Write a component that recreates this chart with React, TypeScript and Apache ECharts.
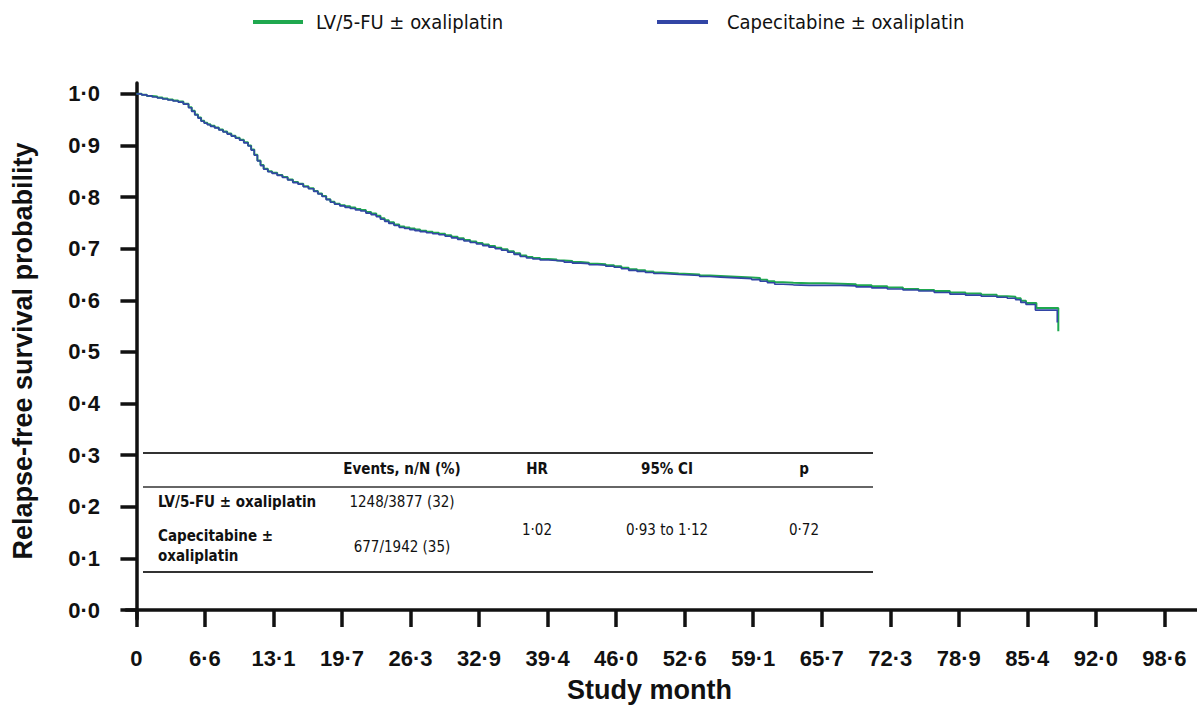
import React, { useEffect, useRef } from 'react';
import * as echarts from 'echarts';

const seriesNames = ['LV/5-FU ± oxaliplatin', 'Capecitabine ± oxaliplatin'];
const seriesColors = ['#1fa84f', '#3245a5'];

// [study month, relapse-free survival probability]
const lvfuPoints = [
  [0, 1.0], [0.5, 0.998], [1, 0.996], [1.5, 0.995], [2, 0.993], [2.5, 0.991], [3, 0.989], [3.5, 0.987], [4, 0.985], [4.5, 0.981],
  [5, 0.974], [5.3, 0.967], [5.6, 0.96], [5.9, 0.954], [6.2, 0.948], [6.5, 0.944], [6.8, 0.941], [7.1, 0.938], [7.5, 0.935], [7.9, 0.931],
  [8.3, 0.927], [8.7, 0.923], [9.1, 0.919], [9.5, 0.915], [9.9, 0.911], [10.3, 0.906], [10.7, 0.9], [11.0, 0.892], [11.3, 0.882], [11.6, 0.871],
  [11.9, 0.862], [12.2, 0.855], [12.6, 0.85], [13.0, 0.847], [13.5, 0.843], [14.0, 0.839], [14.5, 0.834], [15.0, 0.829], [15.5, 0.826], [16.0, 0.821],
  [16.5, 0.817], [17.0, 0.812], [17.4, 0.807], [17.8, 0.802], [18.2, 0.796], [18.6, 0.791], [19.0, 0.787], [19.5, 0.784], [20.0, 0.782], [20.5, 0.78],
  [21.0, 0.777], [21.5, 0.775], [22.0, 0.771], [22.5, 0.768], [23.0, 0.764], [23.4, 0.759], [23.8, 0.755], [24.2, 0.751], [24.7, 0.747], [25.2, 0.743],
  [25.7, 0.741], [26.2, 0.739], [26.7, 0.737], [27.2, 0.735], [27.8, 0.733], [28.4, 0.731], [29, 0.729], [29.6, 0.726], [30.2, 0.723], [30.8, 0.72],
  [31.4, 0.717], [32, 0.714], [32.6, 0.711], [33.2, 0.708], [33.8, 0.705], [34.4, 0.702], [35, 0.699], [35.6, 0.695], [36.2, 0.691], [36.8, 0.687],
  [37.4, 0.684], [38, 0.682], [38.7, 0.68], [39.5, 0.679], [40.3, 0.677], [41, 0.676], [41.8, 0.674], [42.6, 0.673], [43.4, 0.671], [44.2, 0.67],
  [45, 0.668], [45.8, 0.666], [46.5, 0.663], [47.2, 0.66], [48, 0.658], [48.8, 0.656], [49.6, 0.654], [50.4, 0.653], [51.2, 0.652], [52, 0.651],
  [53, 0.65], [54, 0.648], [55, 0.647], [56, 0.646], [57, 0.645], [58, 0.644], [59, 0.643], [59.8, 0.64], [60.5, 0.637], [61.2, 0.635],
  [62, 0.634], [63, 0.633], [64.5, 0.633], [66, 0.632], [67.5, 0.631], [69, 0.629], [70.5, 0.627], [72, 0.625], [73.5, 0.622], [75, 0.62],
  [76.5, 0.618], [78, 0.615], [79.5, 0.613], [81, 0.611], [82.5, 0.608], [83.5, 0.607], [84.3, 0.604], [84.8, 0.599], [85.3, 0.595], [86.3, 0.585],
  [88.3, 0.585], [88.4, 0.54],
];

const capePoints = [
  [0, 1.0], [0.5, 0.998], [1, 0.996], [1.5, 0.994], [2, 0.992], [2.5, 0.99], [3, 0.988], [3.5, 0.986], [4, 0.984], [4.5, 0.98],
  [5, 0.973], [5.3, 0.966], [5.6, 0.959], [5.9, 0.953], [6.2, 0.947], [6.5, 0.943], [6.8, 0.94], [7.1, 0.937], [7.5, 0.934], [7.9, 0.93],
  [8.3, 0.926], [8.7, 0.922], [9.1, 0.918], [9.5, 0.914], [9.9, 0.91], [10.3, 0.905], [10.7, 0.899], [11.0, 0.891], [11.3, 0.881], [11.6, 0.87],
  [11.9, 0.861], [12.2, 0.854], [12.6, 0.849], [13.0, 0.846], [13.5, 0.842], [14.0, 0.838], [14.5, 0.833], [15.0, 0.828], [15.5, 0.825], [16.0, 0.82],
  [16.5, 0.816], [17.0, 0.811], [17.4, 0.806], [17.8, 0.801], [18.2, 0.795], [18.6, 0.79], [19.0, 0.786], [19.5, 0.783], [20.0, 0.78], [20.5, 0.778],
  [21.0, 0.775], [21.5, 0.773], [22.0, 0.769], [22.5, 0.766], [23.0, 0.762], [23.4, 0.757], [23.8, 0.753], [24.2, 0.749], [24.7, 0.745], [25.2, 0.741],
  [25.7, 0.739], [26.2, 0.737], [26.7, 0.735], [27.2, 0.733], [27.8, 0.731], [28.4, 0.729], [29, 0.727], [29.6, 0.724], [30.2, 0.721], [30.8, 0.718],
  [31.4, 0.715], [32, 0.712], [32.6, 0.709], [33.2, 0.706], [33.8, 0.703], [34.4, 0.7], [35, 0.697], [35.6, 0.693], [36.2, 0.689], [36.8, 0.685],
  [37.4, 0.682], [38, 0.68], [38.7, 0.678], [39.5, 0.677], [40.3, 0.676], [41, 0.674], [41.8, 0.672], [42.6, 0.671], [43.4, 0.669], [44.2, 0.668],
  [45, 0.666], [45.8, 0.664], [46.5, 0.661], [47.2, 0.658], [48, 0.656], [48.8, 0.654], [49.6, 0.652], [50.4, 0.651], [51.2, 0.65], [52, 0.649],
  [53, 0.648], [54, 0.646], [55, 0.645], [56, 0.644], [57, 0.643], [58, 0.642], [59, 0.64], [59.8, 0.637], [60.5, 0.634], [61.2, 0.631],
  [62, 0.63], [63, 0.629], [64.5, 0.629], [66, 0.629], [67.5, 0.628], [69, 0.626], [70.5, 0.624], [72, 0.622], [73.5, 0.62], [75, 0.618],
  [76.5, 0.615], [78, 0.612], [79.5, 0.61], [81, 0.608], [82.5, 0.606], [83.5, 0.604], [84.3, 0.601], [84.8, 0.596], [85.3, 0.592], [86.2, 0.581],
  [88.2, 0.581], [88.3, 0.557],
];

const xTickValues = [0, 6.571, 13.143, 19.714, 26.286, 32.857, 39.429, 46.0, 52.571, 59.143, 65.714, 72.286, 78.857, 85.429, 92.0, 98.571];
const xTickLabels = ['0', '6·6', '13·1', '19·7', '26·3', '32·9', '39·4', '46·0', '52·6', '59·1', '65·7', '72·3', '78·9', '85·4', '92·0', '98·6'];
const yTickValues = [0, 0.1, 0.2, 0.3, 0.4, 0.5, 0.6, 0.7, 0.8, 0.9, 1.0];
const yTickLabels = ['0·0', '0·1', '0·2', '0·3', '0·4', '0·5', '0·6', '0·7', '0·8', '0·9', '1·0'];

const tableHeader = ['Events, n/N (%)', 'HR', '95% CI', 'p'];
const tableRowLabels = [['LV/5-FU ± oxaliplatin'], ['Capecitabine ±', 'oxaliplatin']];
const tableEvents = ['1248/3877 (32)', '677/1942 (35)'];
const tableStats = ['1·02', '0·93 to 1·12', '0·72'];

const ARIAL = "'Liberation Sans', Arial, sans-serif";
const NARROW = "'Liberation Sans Narrow', 'Arial Narrow', 'DejaVu Sans Condensed', sans-serif";

function nearestLabel(v: number, values: number[], labels: string[]) {
  let best = 0;
  for (let i = 1; i < values.length; i++) {
    if (Math.abs(values[i] - v) < Math.abs(values[best] - v)) best = i;
  }
  return labels[best];
}

export default function App() {
  const ref = useRef<HTMLDivElement>(null);
  useEffect(() => {
    if (!ref.current) return;
    const chart = echarts.init(ref.current, undefined, { renderer: 'svg' });

    const colX = [402, 537, 667, 804];
    const txt = (text: string, x: number, y: number, bold: boolean, align: string) => ({
      type: 'text', x, y,
      style: { text, font: `${bold ? 'bold ' : ''}15px ${NARROW}`, fill: '#111', textAlign: align, textVerticalAlign: 'middle' },
    });
    const graphicEls: any[] = [
      { type: 'line', shape: { x1: 143, y1: 453, x2: 873, y2: 453 }, style: { stroke: '#333', lineWidth: 2 } },
      { type: 'line', shape: { x1: 143, y1: 487, x2: 873, y2: 487 }, style: { stroke: '#333', lineWidth: 1.5 } },
      { type: 'line', shape: { x1: 143, y1: 572, x2: 873, y2: 572 }, style: { stroke: '#333', lineWidth: 2 } },
    ];
    tableHeader.forEach((t, i) => graphicEls.push(txt(t, colX[i], 469, true, 'center')));
    graphicEls.push(txt(tableRowLabels[0][0], 158, 502, true, 'left'));
    graphicEls.push(txt(tableRowLabels[1][0], 158, 536, true, 'left'));
    graphicEls.push(txt(tableRowLabels[1][1], 158, 556, true, 'left'));
    graphicEls.push(txt(tableEvents[0], colX[0], 502, false, 'center'));
    graphicEls.push(txt(tableEvents[1], colX[0], 547, false, 'center'));
    tableStats.forEach((t, i) => graphicEls.push(txt(t, colX[i + 1], 530, false, 'center')));

    chart.setOption({
      animation: false,
      backgroundColor: '#fff',
      legend: [
        {
          left: 248, top: 7, icon: 'rect', itemWidth: 50, itemHeight: 4,
          data: [seriesNames[0]],
          textStyle: { fontFamily: NARROW, fontSize: 20, color: '#111', padding: [0, 0, 0, 8] },
        },
        {
          left: 652, top: 7, icon: 'rect', itemWidth: 51, itemHeight: 4,
          data: [seriesNames[1]],
          textStyle: { fontFamily: NARROW, fontSize: 20, color: '#111', padding: [0, 0, 0, 14] },
        },
      ],
      grid: { left: 126, right: 0, top: 83, bottom: 90, containLabel: false },
      xAxis: {
        type: 'value', min: -1.0, max: 101.7,
        name: 'Study month', nameLocation: 'middle', nameGap: 57,
        nameTextStyle: { fontFamily: ARIAL, fontWeight: 'bold', fontSize: 27, color: '#111', padding: [0, 24, 0, 0] },
        axisLine: { show: true, lineStyle: { color: '#111', width: 3.5 } },
        axisTick: { show: true, customValues: xTickValues, length: 17, lineStyle: { color: '#111', width: 3.5 } },
        axisLabel: {
          customValues: xTickValues, margin: 28,
          fontFamily: ARIAL, fontWeight: 'bold', fontSize: 22, color: '#111',
          formatter: (v: number) => nearestLabel(v, xTickValues, xTickLabels),
        },
        splitLine: { show: false },
      },
      yAxis: {
        type: 'value', min: -0.0174, max: 1.021,
        name: 'Relapse-free survival probability', nameLocation: 'middle', nameGap: 90, nameRotate: 90,
        nameTextStyle: { fontFamily: ARIAL, fontWeight: 'bold', fontSize: 27, color: '#111' },
        axisLine: { show: true, lineStyle: { color: '#111', width: 3.5 } },
        axisTick: { show: true, customValues: yTickValues, length: 16, lineStyle: { color: '#111', width: 3.5 } },
        axisLabel: {
          customValues: yTickValues, margin: 26,
          fontFamily: ARIAL, fontWeight: 'bold', fontSize: 22, color: '#111',
          formatter: (v: number) => nearestLabel(v, yTickValues, yTickLabels),
        },
        splitLine: { show: false },
      },
      series: [
        {
          name: seriesNames[0], type: 'line', step: 'end', showSymbol: false, symbol: 'none',
          color: seriesColors[0], lineStyle: { color: seriesColors[0], width: 2 },
          data: lvfuPoints,
        },
        {
          name: seriesNames[1], type: 'line', step: 'end', showSymbol: false, symbol: 'none',
          color: seriesColors[1], lineStyle: { color: seriesColors[1], width: 1.6 },
          data: capePoints,
        },
      ],
      graphic: graphicEls,
    });
    return () => chart.dispose();
  }, []);

  return <div ref={ref} style={{ position: 'absolute', left: 0, top: 0, width: 1197, height: 709 }} />;
}
